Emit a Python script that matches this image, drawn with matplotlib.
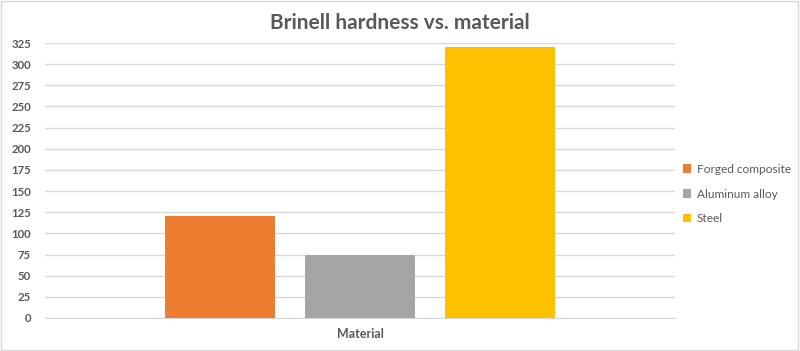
import matplotlib
matplotlib.use("Agg")
import matplotlib.pyplot as plt
from matplotlib.patches import Patch

# Data
materials = ["Forged composite", "Aluminum alloy", "Steel"]
hardness = [120, 75, 320]
colors = ["#ED7D31", "#A5A5A5", "#FFC000"]
yticks = list(range(0, 326, 25))

plt.rcParams["font.family"] = ["Lato", "DejaVu Sans"]
text_color = "#595959"

fig = plt.figure(figsize=(8, 3.51), dpi=100)
ax = fig.add_axes([45 / 800, 1 - 318 / 351, 630 / 800, 275 / 351])

# Clustered bars for the single category "Material"
positions = list(range(len(materials)))
ax.bar(positions, hardness, width=110 / 140, color=colors, zorder=3)

ax.set_xlim(-1.25, 3.25)
ax.set_ylim(0, 325)
ax.set_yticks(yticks)
ax.set_yticklabels([str(t) for t in yticks], fontsize=8.2, fontweight="bold",
                   color=text_color)
ax.set_xticks([])
ax.tick_params(axis="y", length=0, pad=10)
ax.grid(axis="y", color="#D9D9D9", linewidth=1, zorder=0)
for side in ["top", "right", "left"]:
    ax.spines[side].set_visible(False)
ax.spines["bottom"].set_color("#D9D9D9")

ax.set_xlabel("Material", fontsize=9, fontweight="bold", color=text_color, labelpad=7)

fig.text(0.5, 1 - 23 / 351, "Brinell hardness vs. material", ha="center", va="center",
         fontsize=15, fontweight="bold", color=text_color)

handles = [Patch(facecolor=c, edgecolor="none") for c in colors]
fig.legend(handles, materials, loc="center left", bbox_to_anchor=(672 / 800, 1 - 194 / 351),
           frameon=False, fontsize=8.6, labelcolor=text_color, handlelength=0.7,
           handleheight=0.7, handletextpad=0.5, labelspacing=1.15)

# light frame around the chart area
fig.patches.append(plt.Rectangle((0.001, 0.002), 0.997, 0.995, transform=fig.transFigure,
                                 fill=False, edgecolor="#D9D9D9", linewidth=1))

fig.savefig("out.png", dpi=100)
